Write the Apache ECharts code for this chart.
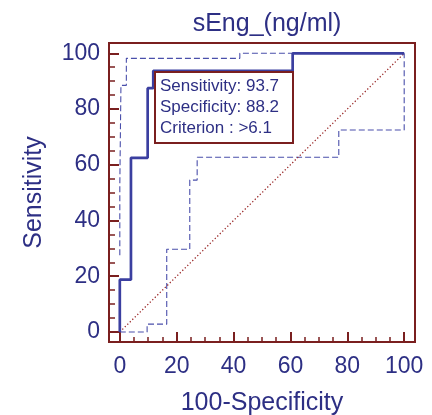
<!DOCTYPE html>
<html>
<head>
<meta charset="utf-8">
<script src="https://cdn.jsdelivr.net/npm/echarts@6/dist/echarts.min.js"></script>
<style>
html,body{margin:0;padding:0;background:#fff;}
#c{width:432px;height:415px;}
</style>
</head>
<body>
<div id="c"></div>
<script>
// ---- data ----
const titleText = 'sEng_(ng/ml)';
const xName = '100-Specificity';
const yName = 'Sensitivity';
const majorTicks = [0, 20, 40, 60, 80, 100];
const minorTicks = [5, 10, 15, 25, 30, 35, 45, 50, 55, 65, 70, 75, 85, 90, 95];

const rocX = [0, 0, 3.92, 3.92, 9.8, 9.8, 11.76, 11.76, 60.78, 60.78, 100];
const rocY = [0, 18.75, 18.75, 62.5, 62.5, 87.5, 87.5, 93.75, 93.75, 100, 100];

const upperX = [0, 0, 0.4, 0.4, 2.3, 2.3, 42.2, 42.2, 100];
const upperY = [27.5, 52.5, 52.5, 88.5, 88.5, 98.2, 98.2, 100, 100];

const lowerX = [0, 9.6, 9.6, 16.5, 16.5, 24.6, 24.6, 27.2, 27.2, 77.0, 77.0, 100, 100];
const lowerY = [0, 0, 2.8, 2.8, 29.7, 29.7, 54.5, 54.5, 62.7, 62.7, 72.5, 72.5, 100];

const diagX = [0, 100];
const diagY = [0, 100];

const boxLines = ['Sensitivity: 93.7', 'Specificity: 88.2', 'Criterion : >6.1'];

// ---- styles ----
const TXT = '#2d2f84';
const RED = '#7a1f1f';
const BLUE = '#3b3fa0';
const FONT = '"Liberation Sans", Arial, sans-serif';

function pairs(xs, ys) { return xs.map((x, i) => [x, ys[i]]); }

const chart = echarts.init(document.getElementById('c'), null, {renderer: 'canvas'});

const xMin = -3.8, xMax = 103.8, yMin = -3.6, yMax = 103.7;

chart.setOption({
  backgroundColor: '#fff',
  animation: false,
  title: {
    text: titleText, left: 262, top: 7, textAlign: 'center',
    textStyle: {color: TXT, fontSize: 25, fontWeight: 'normal', fontFamily: FONT}
  },
  grid: {left: 109, right: 17, top: 43, bottom: 73, containLabel: false, outerBoundsMode: 'none',
         show: true, borderColor: RED, borderWidth: 2, backgroundColor: 'transparent'},
  xAxis: [
    {
      type: 'value', min: xMin, max: xMax, position: 'bottom',
      name: xName, nameLocation: 'middle', nameGap: 49,
      nameTextStyle: {color: TXT, fontSize: 25, fontFamily: FONT},
      axisLine: {show: false, onZero: false},
      splitLine: {show: false},
      axisTick: {show: true, inside: true, length: 10, customValues: majorTicks, lineStyle: {color: RED, width: 2}},
      axisLabel: {show: true, customValues: majorTicks, margin: 13, color: TXT, fontSize: 23, fontFamily: FONT}
    },
    {
      type: 'value', min: xMin, max: xMax, position: 'bottom',
      axisLine: {show: false, onZero: false},
      splitLine: {show: false},
      axisTick: {show: true, inside: true, length: 5, customValues: minorTicks, lineStyle: {color: RED, width: 1.5}},
      axisLabel: {show: false}
    }
  ],
  yAxis: [
    {
      type: 'value', min: yMin, max: yMax, position: 'left',
      name: yName, nameLocation: 'middle', nameGap: 62, nameRotate: 90,
      nameTextStyle: {color: TXT, fontSize: 25, fontFamily: FONT},
      axisLine: {show: false, onZero: false},
      splitLine: {show: false},
      axisTick: {show: true, inside: true, length: 10, customValues: majorTicks, lineStyle: {color: RED, width: 2}},
      axisLabel: {show: true, customValues: majorTicks, margin: 9, color: TXT, fontSize: 23, fontFamily: FONT}
    },
    {
      type: 'value', min: yMin, max: yMax, position: 'left',
      axisLine: {show: false, onZero: false},
      splitLine: {show: false},
      axisTick: {show: true, inside: true, length: 6, customValues: minorTicks, lineStyle: {color: RED, width: 1.5}},
      axisLabel: {show: false}
    }
  ],
  series: [
    {
      type: 'line', xAxisIndex: 0, yAxisIndex: 0, data: pairs(upperX, upperY),
      symbol: 'none', silent: true,
      lineStyle: {color: '#4a4fab', width: 1.1, type: [6, 3]}
    },
    {
      type: 'line', xAxisIndex: 0, yAxisIndex: 0, data: pairs(lowerX, lowerY),
      symbol: 'none', silent: true,
      lineStyle: {color: '#4a4fab', width: 1.1, type: [6, 3]}
    },
    {
      type: 'line', xAxisIndex: 0, yAxisIndex: 0, data: pairs(diagX, diagY),
      symbol: 'none', silent: true,
      lineStyle: {color: '#9b2b2b', width: 1.3, type: [1.3, 2.2]}
    },
    {
      type: 'line', xAxisIndex: 0, yAxisIndex: 0, data: pairs(rocX, rocY),
      symbol: 'none', silent: true,
      lineStyle: {color: BLUE, width: 2.7}
    }
  ],
  graphic: [
    {
      type: 'rect', left: 154, top: 71, z: 100,
      shape: {width: 138, height: 71},
      style: {fill: '#fff', stroke: RED, lineWidth: 2}
    },
    {
      type: 'text', left: 160, top: 76, z: 101,
      style: {text: boxLines.join('\n'), fill: TXT, font: '17px ' + FONT, lineHeight: 21}
    }
  ]
});
</script>
</body>
</html>
